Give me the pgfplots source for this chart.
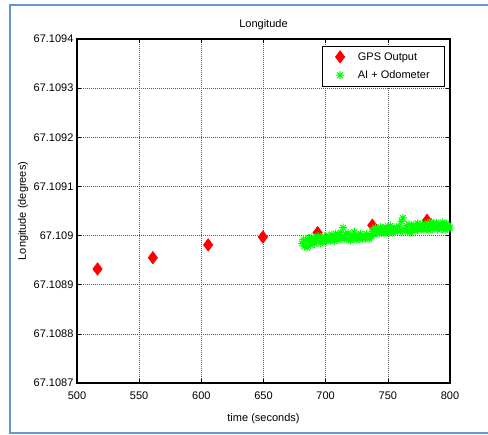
\documentclass[border=0pt]{standalone}
\usepackage{pgfplots}
\pgfplotsset{compat=1.18}
\usepackage{fontspec}
\setmainfont{Liberation Sans}
\definecolor{framblue}{RGB}{100,150,215}
\definecolor{mgreen}{RGB}{0,255,0}
\pgfdeclareplotmark{mstar}{%
  \pgfpathmoveto{\pgfqpoint{0pt}{\pgfplotmarksize}}\pgfpathlineto{\pgfqpoint{0pt}{-\pgfplotmarksize}}%
  \pgfpathmoveto{\pgfqpoint{\pgfplotmarksize}{0pt}}\pgfpathlineto{\pgfqpoint{-\pgfplotmarksize}{0pt}}%
  \pgfpathmoveto{\pgfqpoint{.707\pgfplotmarksize}{.707\pgfplotmarksize}}\pgfpathlineto{\pgfqpoint{-.707\pgfplotmarksize}{-.707\pgfplotmarksize}}%
  \pgfpathmoveto{\pgfqpoint{-.707\pgfplotmarksize}{.707\pgfplotmarksize}}\pgfpathlineto{\pgfqpoint{.707\pgfplotmarksize}{-.707\pgfplotmarksize}}%
  \pgfusepathqstroke}
\begin{document}
\begin{tikzpicture}[font=\fontsize{11}{13}\selectfont]
\useasboundingbox (0pt,0pt) rectangle (488pt,435pt);
\draw[framblue, line width=1.5pt] (500pt,430pt) -- (10pt,430pt) -- (10pt,2pt) -- (500pt,2pt);
\begin{axis}[
  at={(77pt,52pt)}, anchor=south west,
  scale only axis, width=373pt, height=344pt,
  xmin=500, xmax=800, ymin=-300, ymax=400,
  xtick={500,550,...,800},
  ytick={-300,-200,...,400},
  yticklabels={67.1087,67.1088,67.1089,67.109,67.1091,67.1092,67.1093,67.1094},
  /pgf/number format/assume math mode=true,
  xticklabel style={yshift=-5pt},
  grid=major,
  major grid style={black!65, line width=0.5pt, dash pattern=on 1pt off 1pt},
  axis line style={black, line width=1.2pt},
  tick style={black, line width=0.6pt},
  tick align=inside, major tick length=4pt,
  title={Longitude},
  every axis title shift=0pt,
  title style={at={(axis description cs:0.5,1.032)}, anchor=base},
  xlabel={time (seconds)},
  xlabel style={at={(axis description cs:0.5,-0.1105)}, anchor=base},
  ylabel={Longitude (degrees)},
  ylabel style={at={(axis description cs:-0.137,0.5)}, anchor=base, rotate=0},
  legend style={at={(axis description cs:0.987,0.98)}, anchor=north east,
    draw=black, line width=0.9pt, fill=white, inner xsep=13pt, inner ysep=4pt,
    font=\fontsize{11}{13}\selectfont, row sep=5pt,
    /tikz/every odd column/.append style={column sep=11pt}},
  legend cell align=left,
]
\addplot[only marks, mark=diamond*, mark size=6.3pt, color=red, mark options={fill=red, draw=red, line width=0.5pt}]
  coordinates {
  (516.5,-68) (561,-45) (605.5,-19) (649.5,-3) (693.5,6) (737.5,21) (781.5,31)
  };
\addlegendentry{GPS Output}
\addplot[only marks, mark=mstar, mark size=4pt, color=mgreen, mark options={line width=1pt}]
  table[row sep=\\] {
  t d\\
  681 -16\\ 682 -8\\ 683 -22\\ 684 -10\\ 685 -24\\ 686 -5\\ 687 -14\\ 688 -19\\ 689 -3\\ 690 -12\\
  691 -17\\ 692 -6\\ 693 -13\\ 694 -1\\ 695 -9\\ 696 -16\\ 697 -4\\ 698 -11\\ 699 -2\\ 700 -8\\
  701 -13\\ 702 0\\ 703 -6\\ 704 -10\\ 705 2\\ 706 -4\\ 707 -11\\ 708 4\\ 709 -5\\ 710 -9\\
  711 -2\\ 712 6\\ 713 -7\\ 714 16\\ 715 -3\\ 716 3\\ 717 -8\\ 718 5\\ 719 -4\\ 720 -10\\
  721 1\\ 722 -6\\ 723 7\\ 724 -3\\ 725 -9\\ 726 0\\ 727 -7\\ 728 4\\ 729 -4\\ 730 -8\\
  731 0\\ 732 -6\\ 733 3\\ 734 -3\\ 735 -7\\ 736 1\\ 737 -2\\ 738 11\\ 739 5\\ 740 16\\
  741 8\\ 742 13\\ 743 3\\ 744 17\\ 745 8\\ 746 12\\ 747 4\\ 748 18\\ 749 9\\ 750 14\\
  751 6\\ 752 20\\ 753 11\\ 754 6\\ 755 16\\ 756 8\\ 757 15\\ 758 10\\ 759 19\\ 760 9\\
  761 29\\ 762 36\\ 763 13\\ 764 8\\ 765 20\\ 766 11\\ 767 23\\ 768 6\\ 769 17\\ 770 12\\
  771 22\\ 772 9\\ 773 16\\ 774 25\\ 775 11\\ 776 18\\ 777 13\\ 778 23\\ 779 11\\ 780 19\\
  781 15\\ 782 25\\ 783 10\\ 784 20\\ 785 28\\ 786 13\\ 787 22\\ 788 16\\ 789 26\\ 790 12\\
  791 22\\ 792 17\\ 793 14\\ 794 27\\ 795 19\\ 796 11\\ 797 24\\ 798 16\\ 799 21\\ 800 15\\
  };
\addlegendentry{AI + Odometer}
\end{axis}
\end{tikzpicture}
\end{document}
